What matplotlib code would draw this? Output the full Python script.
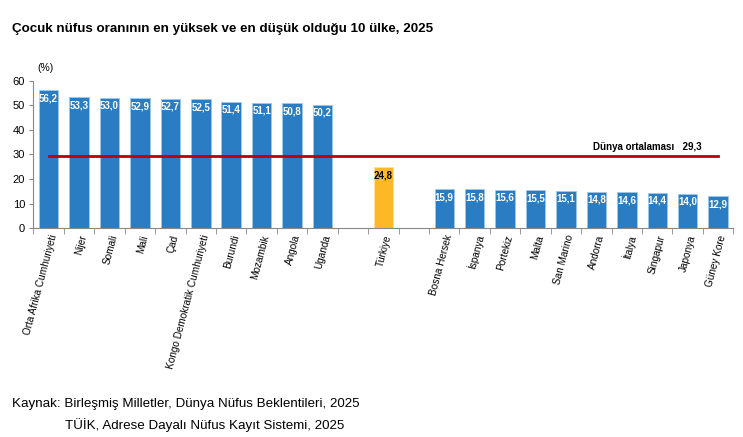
import numpy as np
import matplotlib.pyplot as plt

plt.rcParams['font.family'] = ['Liberation Sans', 'DejaVu Sans']

# ============================================================
# Data
# ============================================================

high_names = ['Orta Afrika Cumhuriyeti', 'Nijer', 'Somali', 'Mali', 'Çad',
              'Kongo Demokratik Cumhuriyeti', 'Burundi', 'Mozambik', 'Angola', 'Uganda']
high_vals = [56.2, 53.3, 53.0, 52.9, 52.7, 52.5, 51.4, 51.1, 50.8, 50.2]

tr_name = 'Türkiye'
tr_val = 24.8

low_names = ['Bosna Hersek', 'İspanya', 'Portekiz', 'Malta', 'San Marino',
             'Andorra', 'İtalya', 'Singapur', 'Japonya', 'Güney Kore']
low_vals = [15.9, 15.8, 15.6, 15.5, 15.1, 14.8, 14.6, 14.4, 14.0, 12.9]

world_avg = 29.3

BLUE = '#2A7DC2'
GOLD = '#FDB827'
RED = '#C00000'

# slots: 10 high, gap, Türkiye, gap, 10 low
x_high = np.arange(len(high_names))
x_tr = len(high_names) + 1
x_low = np.arange(len(low_names)) + x_tr + 2
n_slots = x_low[-1] + 1


def fmt(v):
    return f'{v:.1f}'.replace('.', ',')


# ============================================================
# Plot
# ============================================================

fig = plt.figure(figsize=(7.43, 4.37), dpi=100)
ax = fig.add_axes([0.045, 0.478, 0.942, 0.337])

ax.bar(x_high, high_vals, width=0.64, color=BLUE, edgecolor='#9CC8EA', linewidth=0.6)
ax.bar(x_low, low_vals, width=0.64, color=BLUE, edgecolor='#9CC8EA', linewidth=0.6)
ax.bar([x_tr], [tr_val], width=0.64, color=GOLD, edgecolor='#FCE2A0', linewidth=0.6)

for x, v in zip(list(x_high) + list(x_low), high_vals + low_vals):
    ax.text(x, v - 1.2, fmt(v), ha='center', va='top', color='white',
            fontsize=7, fontweight='bold')
ax.text(x_tr, tr_val - 1.2, fmt(tr_val), ha='center', va='top', color='black',
        fontsize=7, fontweight='bold')

ax.plot([x_high[0], x_low[-1]], [world_avg, world_avg], color=RED, linewidth=2)
ax.text(x_low[-1] - 0.55, world_avg + 1.8, f'Dünya ortalaması   {fmt(world_avg)}',
        ha='right', va='bottom', fontsize=7, fontweight='bold')

ax.set_xlim(-0.5, n_slots - 0.5)
ax.set_ylim(0, 60)
ax.set_yticks(np.arange(0, 61, 10))
ax.tick_params(axis='y', labelsize=8, length=3, color='#888888', pad=3)

ax.set_xticks(list(x_high) + [x_tr] + list(x_low))
ax.set_xticklabels(high_names + [tr_name] + low_names, rotation=75,
                   ha='right', rotation_mode='anchor', fontsize=7.2)
ax.tick_params(axis='x', which='major', length=0, pad=4)
ax.set_xticks(np.arange(-0.5, n_slots, 1.0), minor=True)
ax.tick_params(axis='x', which='minor', length=4, color='#888888')

for s in ['top', 'right']:
    ax.spines[s].set_visible(False)
ax.spines['left'].set_color('#888888')
ax.spines['bottom'].set_color('#888888')

ax.text(0.005, 1.05, '(%)', transform=ax.transAxes, fontsize=7.5, ha='left', va='bottom')

fig.text(0.016, 0.933, 'Çocuk nüfus oranının en yüksek ve en düşük olduğu 10 ülke, 2025',
         fontsize=9.6, fontweight='bold', ha='left', va='center')
fig.text(0.016, 0.076, 'Kaynak: Birleşmiş Milletler, Dünya Nüfus Beklentileri, 2025',
         fontsize=9.6, ha='left', va='center')
fig.text(0.087, 0.028, 'TÜİK, Adrese Dayalı Nüfus Kayıt Sistemi, 2025',
         fontsize=9.6, ha='left', va='center')

fig.savefig('out.png', dpi=100)
